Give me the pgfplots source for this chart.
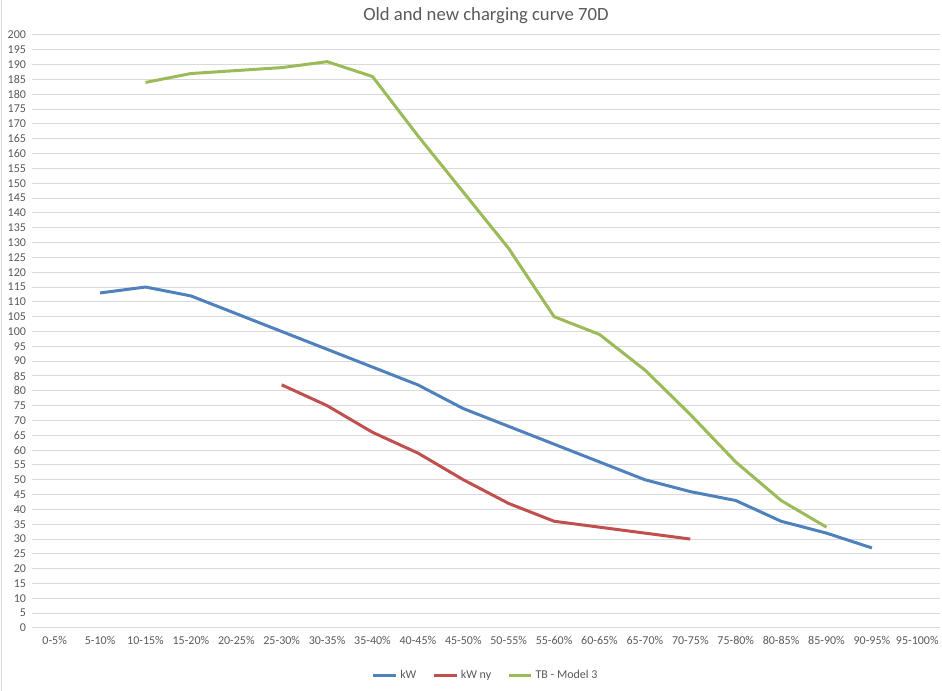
\documentclass[border=0pt]{standalone}
\usepackage{pgfplots}
\pgfplotsset{compat=1.18}
\usepackage{fontspec}
\setmainfont{Carlito}
\definecolor{cblue}{HTML}{4F81BD}
\definecolor{cred}{HTML}{C0504D}
\definecolor{cgreen}{HTML}{9BBB59}
\definecolor{cgrid}{HTML}{D9D9D9}
\definecolor{ctext}{HTML}{595959}
\begin{document}
\begin{tikzpicture}
\path[use as bounding box] (0,0) rectangle (706.5pt,518.25pt);
\draw[cgrid, line width=0.75pt] (1.1pt,0) -- (1.1pt,518.25pt);
\begin{axis}[
  at={(24pt,47.25pt)}, anchor=south west,
  scale only axis, width=681pt, height=444.75pt,
  xmin=-0.5, xmax=19.5, ymin=0, ymax=200,
  xtick={0,...,19},
  xticklabels={0-5\%,5-10\%,10-15\%,15-20\%,20-25\%,25-30\%,30-35\%,35-40\%,40-45\%,45-50\%,50-55\%,55-60\%,60-65\%,65-70\%,70-75\%,75-80\%,80-85\%,85-90\%,90-95\%,95-100\%},
  ytick={0,5,...,200},
  ymajorgrids, grid style={cgrid, line width=0.75pt},
  axis line style={draw=none},
  axis x line*=bottom,
  major tick length=0pt,
  tick label style={font=\fontsize{9}{10}\selectfont, text=ctext},
  /pgf/number format/assume math mode=true,
  xticklabel style={yshift=-3pt},
  yticklabel style={xshift=-1pt},
  title={Old and new charging curve 70D},
  title style={font=\fontsize{14}{16}\selectfont, text=ctext, yshift=-1pt},
  legend style={at={(0.5,-0.062)}, anchor=north, draw=none, fill=none,
    font=\fontsize{9}{10}\selectfont, text=ctext, legend columns=3,
    /tikz/every even column/.append style={column sep=10pt}},
  legend image post style={line width=2.25pt},
  every axis plot/.append style={line width=2.25pt, mark=none, line join=round},
]
\draw[cgrid, line width=0.75pt] (axis cs:-0.5,0) -- (axis cs:19.5,0);
\addplot[cblue] coordinates {(1,113) (2,115) (3,112) (4,106) (5,100) (6,94) (7,88) (8,82) (9,74) (10,68) (11,62) (12,56) (13,50) (14,46) (15,43) (16,36) (17,32) (18,27)};
\addlegendentry{kW}
\addplot[cred] coordinates {(5,82) (6,75) (7,66) (8,59) (9,50) (10,42) (11,36) (12,34) (13,32) (14,30)};
\addlegendentry{kW ny}
\addplot[cgreen] coordinates {(2,184) (3,187) (4,188) (5,189) (6,191) (7,186) (8,166) (9,147) (10,128) (11,105) (12,99) (13,87) (14,72) (15,56) (16,43) (17,34)};
\addlegendentry{TB - Model 3}
\end{axis}
\end{tikzpicture}
\end{document}
